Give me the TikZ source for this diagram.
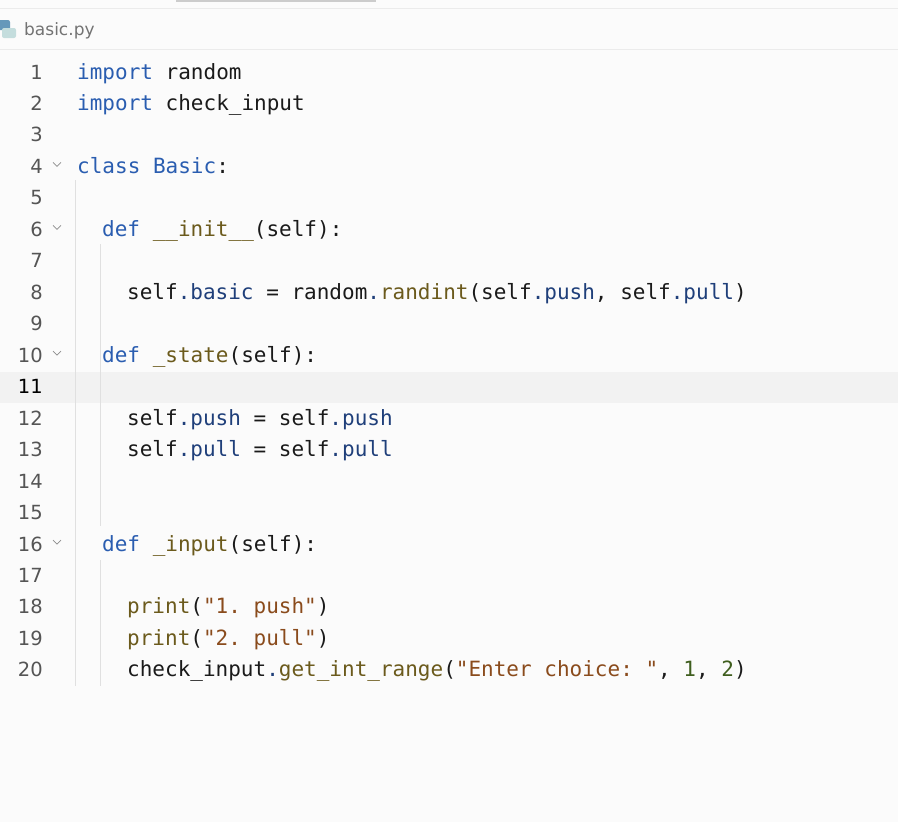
\documentclass[tikz,border=0pt]{standalone}
\usepackage{fontspec}
\setmainfont{DejaVu Sans}
\setmonofont{DejaVu Sans Mono}
\definecolor{kw}{HTML}{2A5DB0}
\definecolor{fn}{HTML}{6B5A1C}
\definecolor{st}{HTML}{8A4B1C}
\definecolor{at}{HTML}{1F3F7A}
\definecolor{nm}{HTML}{3F5E1E}
\definecolor{tx}{HTML}{1A1A1A}
\definecolor{ln}{HTML}{555555}
\definecolor{bg}{HTML}{FBFBFB}
\newcommand{\K}[1]{\textcolor{kw}{#1}}
\newcommand{\F}[1]{\textcolor{fn}{#1}}
\newcommand{\Sg}[1]{\textcolor{st}{#1}}
\newcommand{\A}[1]{\textcolor{at}{#1}}
\newcommand{\N}[1]{\textcolor{nm}{#1}}
\begin{document}
\begin{tikzpicture}[x=1pt,y=-1pt,
  code/.style={anchor=base west,inner sep=0pt,font=\fontsize{21}{21}\ttfamily,text=tx},
  num/.style={anchor=base east,inner sep=0pt,font=\fontsize{19.5}{20}\selectfont,text=ln},
  guide/.style={draw=black!12,line width=1pt}]
\useasboundingbox (0,0) rectangle (898,822);
\fill[bg] (0,0) rectangle (898,822);
\fill[black!5] (0,372) rectangle (898,403);
\draw[black!8,line width=1pt] (0,8) -- (898,8);
\draw[black!20,line width=1.5pt] (176,1) -- (376,1);
\draw[black!8,line width=1pt] (0,49.5) -- (898,49.5);
% python icon
\fill[blue!40!cyan!55!black!60,rounded corners=2pt] (-4,20) rectangle (10,30);
\fill[yellow!20!gray!60!cyan!40,rounded corners=2pt] (2,28) rectangle (16,38);
\node[anchor=base west,inner sep=0pt,font=\fontsize{17}{17}\selectfont,text=black!55] (tab) at (24,35) {basic.py};
% indent guides
\draw[guide] (75,180) -- (75,686);
\draw[guide] (100,244) -- (100,526);
\draw[guide] (100,560) -- (100,686);
\foreach \i in {1,...,10,12,13,14,15,16,17,18,19,20}{
  \node[num] (n\i) at (43,{79+(\i-1)*31.47}) {\i};
}
\node[num,text=black] (n11) at (43,{79+10*31.47}) {11};
\foreach \i in {4,6,10,16}{
  \draw[black!45,line width=0.7pt] (53,{68+(\i-1)*31.47}) -- (57,{72+(\i-1)*31.47}) -- (61,{68+(\i-1)*31.47});
}
\def\y#1{{79+(#1-1)*31.47}}
\node[code] (l1) at (77,\y1) {\K{import} random};
\node[code] (l2) at (77,\y2) {\K{import} check\_input};
\node[code] (l4) at (77,\y4) {\K{class} \K{Basic}:};
\node[code] (l6) at (102,\y6) {\K{def} \F{\_\_init\_\_}(self):};
\node[code] (l8) at (127,\y8) {self\A{.basic} = random\A{.}\F{randint}(self\A{.push}, self\A{.pull})};
\node[code] (l10) at (102,\y{10}) {\K{def} \F{\_state}(self):};
\node[code] (l12) at (127,\y{12}) {self\A{.push} = self\A{.push}};
\node[code] (l13) at (127,\y{13}) {self\A{.pull} = self\A{.pull}};
\node[code] (l16) at (102,\y{16}) {\K{def} \F{\_input}(self):};
\node[code] (l18) at (127,\y{18}) {\F{print}(\Sg{"1. push"})};
\node[code] (l19) at (127,\y{19}) {\F{print}(\Sg{"2. pull"})};
\node[code] (l20) at (127,\y{20}) {check\_input\A{.}\F{get\_int\_range}(\Sg{"Enter choice: "}, \N{1}, \N{2})};
\end{tikzpicture}
\end{document}
